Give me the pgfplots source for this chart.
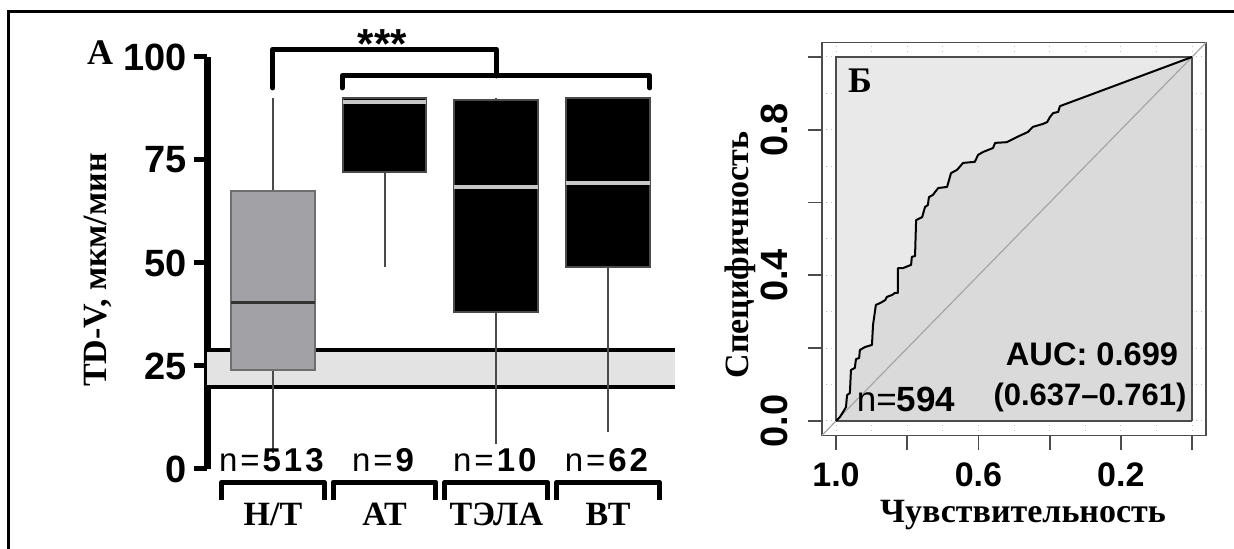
\documentclass[border=0pt]{standalone}
\usepackage{pgfplots}
\pgfplotsset{compat=1.18}
\usepackage{pgfplotstable}
\usepgfplotslibrary{statistics}
\usepackage{fontspec}
\setmainfont{Liberation Serif}
\newfontfamily\arialf{Liberation Sans}
\newfontfamily\arialsp[LetterSpace=9]{Liberation Sans}

\definecolor{boxgray}{HTML}{A2A2A6}
\definecolor{bandgray}{HTML}{E3E3E3}
\definecolor{rocup}{HTML}{E9E9E9}
\definecolor{rocdown}{HTML}{DADADA}
\definecolor{edgegray}{HTML}{4A4A4A}

% ROC curve: sensitivity, specificity
\pgfplotstableread{
sens  spec
1.000 0.000
0.989 0.011
0.980 0.025
0.972 0.038
0.969 0.071
0.961 0.077
0.958 0.140
0.947 0.146
0.944 0.170
0.935 0.173
0.933 0.195
0.919 0.203
0.899 0.209
0.896 0.264
0.888 0.319
0.876 0.324
0.862 0.332
0.857 0.341
0.843 0.346
0.834 0.352
0.826 0.352
0.826 0.420
0.812 0.420
0.789 0.429
0.787 0.451
0.778 0.453
0.775 0.552
0.758 0.560
0.750 0.588
0.742 0.593
0.739 0.615
0.728 0.621
0.713 0.640
0.688 0.643
0.677 0.681
0.660 0.690
0.643 0.709
0.610 0.712
0.601 0.731
0.587 0.739
0.559 0.750
0.553 0.764
0.520 0.766
0.492 0.780
0.461 0.794
0.447 0.808
0.419 0.816
0.407 0.821
0.399 0.835
0.390 0.846
0.376 0.849
0.371 0.865
0.000 1.000
}\roc

\begin{document}
\begin{tikzpicture}

% ---------------- panel A: box plots ----------------
\begin{axis}[
  at={(103.5pt,40pt)}, anchor=south west,
  scale only axis, width=234pt, height=206pt,
  xmin=0.41, xmax=4.6, ymin=0, ymax=100,
  clip=false,
  axis x line=none, axis y line*=left,
  y axis line style={line width=3.5pt, -},
  ytick={0,25,50,75,100},
  tick align=outside, major tick length=6.5pt,
  ytick style={line width=2.5pt, black},
  /pgf/number format/assume math mode=true,
  yticklabel style={font=\arialf\bfseries\fontsize{19}{19}\selectfont},
  boxplot/draw direction=y,
]
% reference band 20-29
\addplot[fill=bandgray, draw=none] coordinates {(0.41,20) (4.6,20) (4.6,29) (0.41,29)};
\addplot[black, line width=2pt] coordinates {(0.41,20) (4.6,20)};
\addplot[black, line width=2pt] coordinates {(0.41,29) (4.6,29)};

% Н/Т
\addplot[boxplot prepared={draw position=1,
    lower whisker=4, lower quartile=24, median=40.5,
    upper quartile=67.5, upper whisker=90,
    box extend=0.75, whisker extend=0,
    every box/.style={draw=edgegray!80, fill=boxgray, line width=1pt},
    every whisker/.style={draw=edgegray, line width=1pt},
    every median/.style={draw=black!80, line width=1.6pt}}]
  coordinates {};
% АТ
\addplot[boxplot prepared={draw position=2,
    lower whisker=49, lower quartile=72, median=89,
    upper quartile=90, upper whisker=90,
    box extend=0.75, whisker extend=0,
    every box/.style={draw=edgegray, fill=black, line width=1pt},
    every whisker/.style={draw=edgegray, line width=1pt},
    every median/.style={draw=black!22, line width=2pt}}]
  coordinates {};
% ТЭЛА
\addplot[boxplot prepared={draw position=3,
    lower whisker=6, lower quartile=38, median=68.5,
    upper quartile=89.5, upper whisker=90,
    box extend=0.75, whisker extend=0,
    every box/.style={draw=edgegray, fill=black, line width=1pt},
    every whisker/.style={draw=edgegray, line width=1pt},
    every median/.style={draw=black!22, line width=2pt}}]
  coordinates {};
% ВТ
\addplot[boxplot prepared={draw position=4,
    lower whisker=9, lower quartile=49, median=69.5,
    upper quartile=90, upper whisker=90,
    box extend=0.75, whisker extend=0,
    every box/.style={draw=edgegray, fill=black, line width=1pt},
    every whisker/.style={draw=edgegray, line width=1pt},
    every median/.style={draw=black!22, line width=2pt}}]
  coordinates {};

% significance brackets
\draw[line width=2.5pt, line cap=round, line join=round]
  (axis cs:1,92.5) |- (axis cs:3,101.9) -- (axis cs:3,95.4);
\draw[line width=2.5pt, line cap=round, line join=round]
  (axis cs:1.62,92.5) |- (axis cs:4.376,95.4) -- (axis cs:4.376,92.5);
\node[font=\arialf\bfseries\fontsize{21}{21}\selectfont] at (axis cs:1.98,103.2) {***};

% group sizes
\node[font=\arialsp\fontsize{16.5}{16.5}\selectfont] at (axis cs:1,2.2) {n=\textbf{513}};
\node[font=\arialsp\fontsize{16.5}{16.5}\selectfont] at (axis cs:2,2.2) {n=\textbf{9}};
\node[font=\arialsp\fontsize{16.5}{16.5}\selectfont] at (axis cs:3,2.2) {n=\textbf{10}};
\node[font=\arialsp\fontsize{16.5}{16.5}\selectfont] at (axis cs:4,2.2) {n=\textbf{62}};

% group brackets and names
\draw[line width=2.5pt, line join=round] (axis cs:0.54,-7.5) |- (axis cs:1.46,-3.2) -- (axis cs:1.46,-7.5);
\draw[line width=2.5pt, line join=round] (axis cs:1.54,-7.5) |- (axis cs:2.46,-3.2) -- (axis cs:2.46,-7.5);
\draw[line width=2.5pt, line join=round] (axis cs:2.54,-7.5) |- (axis cs:3.46,-3.2) -- (axis cs:3.46,-7.5);
\draw[line width=2.5pt, line join=round] (axis cs:3.54,-7.5) |- (axis cs:4.46,-3.2) -- (axis cs:4.46,-7.5);
\node[font=\bfseries\fontsize{17}{17}\selectfont] at (axis cs:1,-11.1) {Н/Т};
\node[font=\bfseries\fontsize{17}{17}\selectfont] at (axis cs:2,-11.1) {АТ};
\node[font=\bfseries\fontsize{17}{17}\selectfont] at (axis cs:3,-11.1) {ТЭЛА};
\node[font=\bfseries\fontsize{17}{17}\selectfont] at (axis cs:4,-11.1) {ВТ};
\end{axis}

\node[font=\bfseries\fontsize{18}{18}\selectfont] at (50pt,248pt) {А};
\node[font=\bfseries\fontsize{17}{17}\selectfont, rotate=90] at (49pt,139.5pt) {TD-V, мкм/мин};

% ---------------- panel Б: ROC curve ----------------
\begin{axis}[
  at={(410.88pt,56.72pt)}, anchor=south west,
  scale only axis, width=192.24pt, height=196.56pt,
  xmin=-0.04, xmax=1.04, ymin=-0.04, ymax=1.04,
  x dir=reverse,
  axis line style={draw=black!70, line width=0.9pt},
  tick align=outside, major tick length=7pt, tick pos=left,
  tick style={draw=black!70, line width=0.9pt},
  xtick={0,0.2,0.4,0.6,0.8,1}, xticklabels={,0.2,,0.6,,1.0},
  ytick={0,0.2,0.4,0.6,0.8,1}, yticklabels={0.0,,0.4,,0.8,},
  minor xtick={0.1,0.3,0.5,0.7,0.9}, minor ytick={0.1,0.3,0.5,0.7,0.9},
  minor tick length=0pt,
  grid=both, grid style={dotted, black!25, line width=0.5pt},
  /pgf/number format/assume math mode=true,
  xticklabel style={font=\arialf\bfseries\fontsize{17}{17}\selectfont},
  yticklabel style={font=\arialf\bfseries\fontsize{19}{19}\selectfont, rotate=90, anchor=south},
  xticklabel shift=3pt, yticklabel shift=6.5pt,
]
\addplot[fill=rocup, draw=none] coordinates {(0,0) (1,0) (1,1) (0,1)};
\addplot[fill=rocdown, draw=none] table[x=sens, y=spec] {\roc} \closedcycle;
\addplot[draw=black!70, line width=0.9pt] coordinates {(0,0) (1,0) (1,1) (0,1) (0,0)};
\addplot[draw=black!35, line width=0.6pt] coordinates {(1.04,-0.04) (-0.04,1.04)};
\addplot[black, line width=1pt, line join=round] table[x=sens, y=spec] {\roc};
\end{axis}

\node[font=\bfseries\fontsize{18}{18}\selectfont] at (430pt,234pt) {Б};
\node[font=\arialf\bfseries\fontsize{16.3}{16.3}\selectfont, anchor=base] at (546pt,91.5pt) {AUC: 0.699};
\node[font=\arialf\bfseries\fontsize{15.5}{15.5}\selectfont, anchor=base] at (545pt,71.5pt) {(0.637–0.761)};
\node[font=\arialf\fontsize{17.5}{17.5}\selectfont, anchor=base] at (453pt,68.7pt) {n=\textbf{594}};
\node[font=\bfseries\fontsize{17}{17}\selectfont, rotate=90] at (370pt,147pt) {Специфичность};
\node[font=\bfseries\fontsize{17}{17}\selectfont, anchor=base] at (511.5pt,13pt) {Чувствительность};

% outer frame
\draw[line width=1.5pt] (4pt,0pt) -- (4pt,268.5pt) -- (617pt,268.5pt);

\pgfresetboundingbox
\path[use as bounding box] (0pt,0pt) rectangle (617pt,274.5pt);
\end{tikzpicture}
\end{document}
